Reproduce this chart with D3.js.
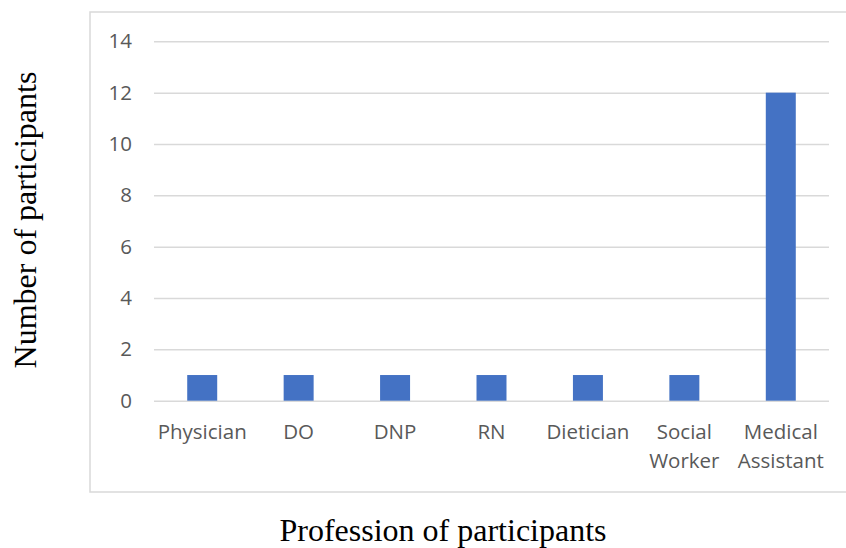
<!DOCTYPE html>
<html>
<head>
<meta charset="utf-8">
<script src="https://cdn.jsdelivr.net/npm/d3@7"></script>
<style>
  html, body { margin: 0; padding: 0; background: #fff; }
  svg { display: block; }
</style>
</head>
<body>
<svg id="chart" width="846" height="548"></svg>
<script>
// Participants by profession
const categories = [["Physician"], ["DO"], ["DNP"], ["RN"], ["Dietician"], ["Social", "Worker"], ["Medical", "Assistant"]];
const counts = [1, 1, 1, 1, 1, 1, 12];
const yTicks = [0, 2, 4, 6, 8, 10, 12, 14];

const svg = d3.select("#chart");
const keys = categories.map(c => c.join(" "));

const x = d3.scaleBand()
  .domain(keys)
  .range([154, 829])
  .paddingInner(0.689)
  .paddingOuter(0.3445);

const y = d3.scaleLinear()
  .domain([0, 14])
  .range([400.7, 41.3]);

// outer frame
svg.append("rect")
  .attr("x", 90).attr("y", 12)
  .attr("width", 770).attr("height", 480)
  .attr("fill", "none")
  .attr("stroke", "#d9d9d9")
  .attr("stroke-width", 1.5);

// gridlines + y tick labels
const yAxis = d3.axisLeft(y).tickValues(yTicks).tickSize(-(829 - 154)).tickPadding(22);
const gy = svg.append("g").attr("transform", "translate(154,0)").call(yAxis);
gy.select(".domain").remove();
gy.selectAll(".tick line").attr("stroke", "#d9d9d9").attr("stroke-width", 1.5);
gy.selectAll(".tick text")
  .attr("fill", "#595959")
  .style("font-family", "'Open Sans', sans-serif")
  .style("font-size", "20.5px");

// bars
svg.append("g").selectAll("rect")
  .data(counts)
  .join("rect")
  .attr("x", (d, i) => x(keys[i]))
  .attr("y", d => y(d))
  .attr("width", x.bandwidth())
  .attr("height", d => y(0) - y(d))
  .attr("fill", "#4472c4");

// category labels
const gx = svg.append("g");
categories.forEach((lines, i) => {
  const cx = x(keys[i]) + x.bandwidth() / 2;
  const t = gx.append("text")
    .attr("x", cx).attr("y", 439)
    .attr("text-anchor", "middle")
    .attr("fill", "#595959")
    .style("font-family", "'Open Sans', sans-serif")
    .style("font-size", "20.5px");
  lines.forEach((ln, j) => {
    t.append("tspan").attr("x", cx).attr("dy", j === 0 ? 0 : 28.5).text(ln);
  });
});

// axis titles
svg.append("text")
  .attr("x", 443).attr("y", 541)
  .attr("text-anchor", "middle")
  .style("font-family", "'Liberation Serif', 'Times New Roman', serif")
  .style("font-size", "32px")
  .attr("fill", "#000")
  .text("Profession of participants");

svg.append("text")
  .attr("transform", "translate(36,220) rotate(-90)")
  .attr("text-anchor", "middle")
  .style("font-family", "'Liberation Serif', 'Times New Roman', serif")
  .style("font-size", "32px")
  .attr("fill", "#000")
  .text("Number of participants");
</script>
</body>
</html>
